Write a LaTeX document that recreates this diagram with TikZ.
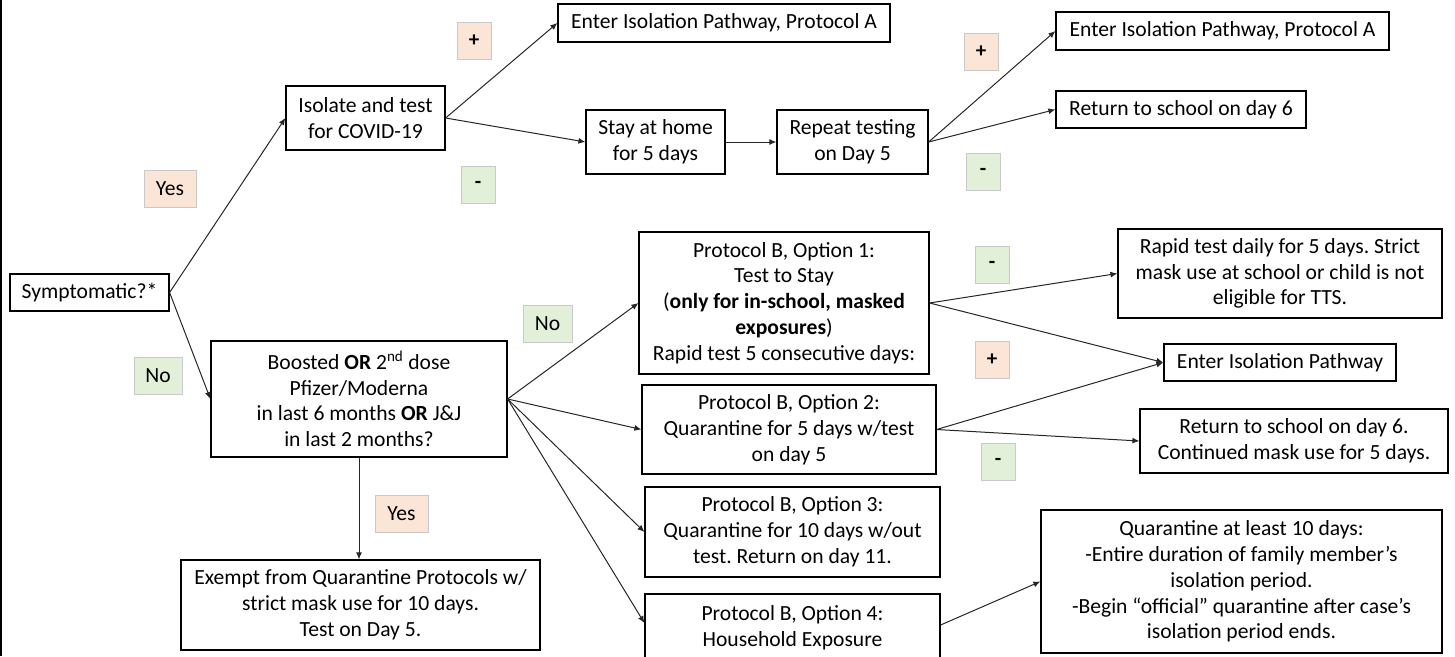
\documentclass[tikz,border=0pt]{standalone}
\usepackage{fontspec}
\setmainfont{Carlito}
\frenchspacing
\usetikzlibrary{arrows.meta}
\definecolor{posfill}{HTML}{FBE5D6}
\definecolor{negfill}{HTML}{E2F0D9}
\definecolor{tagline}{HTML}{C9C9C9}
\begin{document}
\begin{tikzpicture}[x=1pt, y=-1pt, >={Latex[length=7pt,width=6pt]},
    box/.style={draw, line width=1.2pt, align=center, inner sep=0pt, font=\fontsize{21.6}{25.8}\selectfont},
    tag/.style={draw=tagline, line width=1pt, inner sep=0pt, minimum height=37pt, font=\fontsize{21.6}{21.6}\selectfont},
    postag/.style={tag, fill=posfill},
    negtag/.style={tag, fill=negfill},
    sign/.style={minimum width=34pt, font=\fontsize{21}{21}\selectfont\bfseries},
    link/.style={->, line width=1pt, draw=black!85}]
  \useasboundingbox (0,0) rectangle (1455,656);
  \draw[line width=2pt] (1,0) -- (1,656);

  % left column
  \node[box, minimum width=159pt, minimum height=37pt] (sym) at (89.5,292.5) {Symptomatic?*};
  \node[box, minimum width=159pt, minimum height=64pt] (iso) at (365.5,118) {Isolate and test\\for COVID-19};
  \node[box, minimum width=296pt, minimum height=116pt] (boost) at (359,399) {Boosted \textbf{OR} 2\textsuperscript{nd} dose\\Pfizer/Moderna\\in last 6 months \textbf{OR} J\&J\\in last 2 months?};
  \node[box, minimum width=359pt, minimum height=90pt] (exempt) at (360.5,605) {Exempt from Quarantine Protocols w/\\strict mask use for 10 days.\\Test on Day 5.};

  % symptomatic branch
  \node[box, minimum width=332pt, minimum height=38pt] (isoA) at (724,23) {Enter Isolation Pathway, Protocol A};
  \node[box, minimum width=139pt, minimum height=64pt] (home) at (655.5,142) {Stay at home\\for 5 days};
  \node[box, minimum width=151pt, minimum height=64pt] (retest) at (852.5,142) {Repeat testing\\on Day 5};
  \node[box, minimum width=333pt, minimum height=38pt] (isoB) at (1222.5,31) {Enter Isolation Pathway, Protocol A};
  \node[box, minimum width=250pt, minimum height=37pt] (back) at (1181,109.5) {Return to school on day 6};

  % protocol B
  \node[box, minimum width=290pt, minimum height=142pt] (opt1) at (784,303) {Protocol B, Option 1:\\Test to Stay\\(\textbf{only for in-school, masked}\\\textbf{exposures})\\Rapid test 5 consecutive days:};
  \node[box, minimum width=294pt, minimum height=89pt] (opt2) at (789,429.5) {Protocol B, Option 2:\\Quarantine for 5 days w/test\\on day 5};
  \node[box, minimum width=295pt, minimum height=90pt] (opt3) at (792.5,532) {Protocol B, Option 3:\\Quarantine for 10 days w/out\\test. Return on day 11.};
  \node[box, minimum width=295pt, minimum height=90pt] (opt4) at (792.5,639) {Protocol B, Option 4:\\Household Exposure\\\mbox{}};
  \node[box, minimum width=324pt, minimum height=89pt] (rapid) at (1280,273.5) {Rapid test daily for 5 days. Strict\\mask use at school or child is not\\eligible for TTS.};
  \node[box, minimum width=232pt, minimum height=37pt] (isoP) at (1280,362.5) {Enter Isolation Pathway};
  \node[box, minimum width=308pt, minimum height=64pt] (backM) at (1294,441) {Return to school on day 6.\\Continued mask use for 5 days.};
  \node[box, minimum width=401pt, minimum height=143pt] (house) at (1241.5,581.5) {Quarantine at least 10 days:\\-Entire duration of family member’s\\isolation period.\\-Begin “official” quarantine after case’s\\isolation period ends.};

  % answer tags
  \node[postag, minimum width=52pt] (yes1) at (170,188.5) {Yes};
  \node[negtag, minimum width=48pt] (no1) at (158,376) {No};
  \node[postag, minimum width=53pt] (yes2) at (401.5,513.5) {Yes};
  \node[negtag, minimum width=49pt] (no2) at (547.5,324) {No};
  \foreach \nm/\st/\px/\py/\s in {plus1/postag/474/41/+, minus1/negtag/478/184.5/-, plus2/postag/981/52/+, minus2/negtag/983/171.5/-,
      minus3/negtag/992/264.5/-, plus3/postag/992/360/+, minus4/negtag/998/461.5/-} {
    \node[\st, sign] (\nm) at (\px,\py) {\s};
  }

  % connectors
  \foreach \a/\b in {sym/iso, sym/boost, iso/isoA, iso/home, home/retest, retest/isoB, retest/back,
      boost/opt1, boost/opt2, boost/opt3, opt1/rapid, opt1/isoP, opt2/isoP, opt2/backM} {
    \draw[link] (\a.east) -- (\b.west);
  }
  \draw[link] (boost.east) -- ([yshift=16pt]opt4.west);
  \draw[link] ([yshift=14pt]opt4.east) -- (house.west);
  \draw[link] (boost.south) -- (boost.south |- exempt.north);
\end{tikzpicture}
\end{document}
